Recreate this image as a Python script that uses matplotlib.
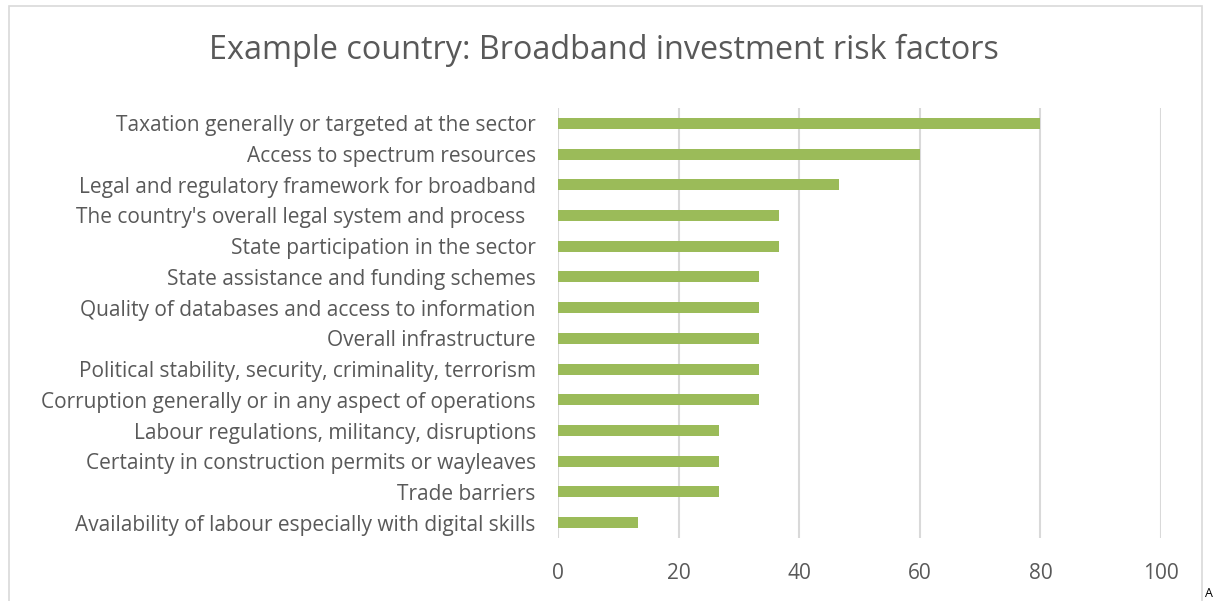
import numpy as np
from matplotlib import pyplot as plt
from matplotlib.patches import Rectangle

# Risk factors, listed top to bottom
factors = [
    'Taxation generally or targeted at the sector',
    'Access to spectrum resources',
    'Legal and regulatory framework for broadband',
    "The country's overall legal system and process  ",
    'State participation in the sector',
    'State assistance and funding schemes',
    'Quality of databases and access to information',
    'Overall infrastructure',
    'Political stability, security, criminality, terrorism',
    'Corruption generally or in any aspect of operations',
    'Labour regulations, militancy, disruptions',
    'Certainty in construction permits or wayleaves',
    'Trade barriers',
    'Availability of labour especially with digital skills',
]
scores = [80.0, 60.0, 46.67, 36.67, 36.67, 33.33, 33.33, 33.33, 33.33, 33.33,
          26.67, 26.67, 26.67, 13.33]
xticks = [0, 20, 40, 60, 80, 100]

plt.rcParams['font.family'] = ['Open Sans', 'DejaVu Sans']
txt_clr = '#595959'
grid_clr = '#D9D9D9'
bar_clr = '#9BBB59'

fig = plt.figure(figsize=(12.26, 6.01), dpi=100)
ax = fig.add_axes([558/1226., 1-538/601., (1161-558)/1226., (538-108)/601.])

ypos = np.arange(len(factors))[::-1]
ax.barh(ypos, scores, height=0.36, color=bar_clr, zorder=3)

# Axes
ax.set_xlim(0, 100)
ax.set_ylim(-0.5, len(factors)-0.5)
ax.set_xticks(xticks)
ax.set_xticklabels([str(t) for t in xticks])
ax.set_yticks(ypos)
ax.set_yticklabels(factors)
for sp in ax.spines.values():
    sp.set_visible(False)
ax.grid(axis='x', color=grid_clr, lw=1.5, zorder=0)
ax.tick_params(axis='both', length=0, colors=txt_clr, labelsize=15)
ax.tick_params(axis='x', pad=18)
ax.tick_params(axis='y', pad=16)

fig.text(0.493, 1-50/601., 'Example country: Broadband investment risk factors',
         ha='center', va='center', size=23.3, color=txt_clr)

# Chart frame
fig.patches.append(Rectangle((9/1226., -0.05), (1202-9)/1226., 1.05-6/601.,
                             transform=fig.transFigure, fill=False,
                             edgecolor=grid_clr, lw=1.2))
fig.text(1205/1226., 0.002, 'A', ha='left', va='bottom', size=9, color='k')

fig.savefig('out.png', dpi=100)
